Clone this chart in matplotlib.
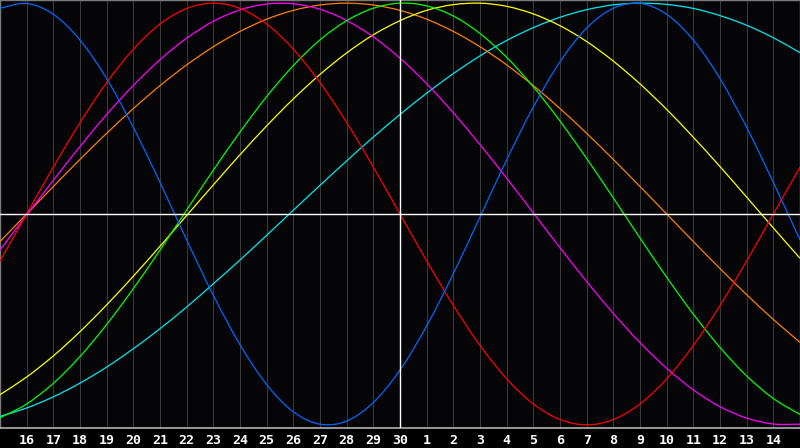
import matplotlib
matplotlib.use("Agg")
import matplotlib.pyplot as plt
from matplotlib.path import Path
from matplotlib.patches import PathPatch

# Day positions (0 = day 15 of previous month, 30 = day 15 of next month)
day_index = list(range(31))
day_labels = ["16", "17", "18", "19", "20", "21", "22", "23", "24", "25", "26", "27", "28", "29", "30",
              "1", "2", "3", "4", "5", "6", "7", "8", "9", "10", "11", "12", "13", "14"]

# Cycle values per day (-1 .. 1)
physical_23 = [0.976, 0.999, 0.947, 0.825, 0.642, 0.411, 0.150, -0.123, -0.386, -0.620, -0.809,
               -0.938, -0.997, -0.982, -0.894, -0.740, -0.531, -0.283, -0.014, 0.257, 0.508,
               0.722, 0.882, 0.976, 0.999, 0.947, 0.825, 0.642, 0.411, 0.150, -0.123]
emotional_28 = [-0.2225, 0.0, 0.2225, 0.4339, 0.6235, 0.7818, 0.9010, 0.9749, 1.0, 0.9749, 0.9010,
                0.7818, 0.6235, 0.4339, 0.2225, 0.0, -0.2225, -0.4339, -0.6235, -0.7818, -0.9010,
                -0.9749, -1.0, -0.9749, -0.9010, -0.7818, -0.6235, -0.4339, -0.2225, 0.0, 0.2225]
intellectual_33 = [-0.967, -0.901, -0.803, -0.676, -0.524, -0.354, -0.171, 0.019, 0.208, 0.389, 0.557,
                   0.704, 0.826, 0.917, 0.976, 1.000, 0.987, 0.939, 0.856, 0.743, 0.603,
                   0.441, 0.263, 0.076, -0.114, -0.300, -0.475, -0.633, -0.768, -0.875, -0.951]
intuitive_38 = [-0.170, -0.005, 0.160, 0.320, 0.472, 0.610, 0.732, 0.834, 0.914, 0.968, 0.996,
                0.997, 0.971, 0.918, 0.840, 0.739, 0.618, 0.480, 0.329, 0.170, 0.005,
                -0.160, -0.320, -0.472, -0.610, -0.732, -0.834, -0.914, -0.968, -0.996, -0.997]
aesthetic_43 = [-0.857, -0.773, -0.673, -0.558, -0.431, -0.295, -0.153, -0.007, 0.138, 0.281, 0.418,
                0.546, 0.662, 0.764, 0.850, 0.917, 0.966, 0.993, 1.000, 0.985, 0.949,
                0.893, 0.818, 0.725, 0.617, 0.496, 0.364, 0.225, 0.080, -0.066, -0.210]
awareness_48 = [-0.1305, 0.0, 0.1305, 0.2588, 0.3827, 0.5, 0.6088, 0.7071, 0.7934, 0.8660, 0.9239,
                0.9659, 0.9914, 1.0, 0.9914, 0.9659, 0.9239, 0.8660, 0.7934, 0.7071, 0.6088,
                0.5, 0.3827, 0.2588, 0.1305, 0.0, -0.1305, -0.2588, -0.3827, -0.5, -0.6088]
spiritual_53 = [-0.960, -0.920, -0.867, -0.802, -0.726, -0.639, -0.544, -0.441, -0.331, -0.218, -0.101,
                0.018, 0.136, 0.252, 0.365, 0.472, 0.573, 0.666, 0.750, 0.823, 0.884,
                0.933, 0.969, 0.992, 1.000, 0.994, 0.975, 0.941, 0.895, 0.836, 0.765]

series = [
    (spiritual_53, "#00e8f0"),
    (awareness_48, "#ff7f00"),
    (aesthetic_43, "#ffff00"),
    (intuitive_38, "#ff00ff"),
    (intellectual_33, "#00ff00"),
    (emotional_28, "#ff0000"),
    (physical_23, "#0068ff"),
]

today_index = 15


def smooth_path(xs, ys):
    """Catmull-Rom curve through the data points, as cubic Bezier segments."""
    n = len(xs)
    mx, my = [], []
    for i in range(n):
        a = max(i - 1, 0)
        b = min(i + 1, n - 1)
        mx.append((xs[b] - xs[a]) / (b - a))
        my.append((ys[b] - ys[a]) / (b - a))
    verts = [(xs[0], ys[0])]
    codes = [Path.MOVETO]
    for i in range(n - 1):
        verts.append((xs[i] + mx[i] / 3, ys[i] + my[i] / 3))
        verts.append((xs[i + 1] - mx[i + 1] / 3, ys[i + 1] - my[i + 1] / 3))
        verts.append((xs[i + 1], ys[i + 1]))
        codes += [Path.CURVE4] * 3
    return Path(verts, codes)


W, H = 800, 448
fig = plt.figure(figsize=(W / 100, H / 100), dpi=100, facecolor="#000000")
ax = fig.add_axes([0, 20 / H, 1, 428 / H])
ax.set_facecolor("#050508")
ax.set_xlim(0, 30)
ax.set_ylim(-1.015, 1.015)

px = 0.72
for k in range(1, 30):
    ax.axvline(k, color="#3a3a3a", lw=px, zorder=1)

for vals, col in series:
    patch = PathPatch(smooth_path(day_index, vals), facecolor="none", edgecolor=col,
                      lw=0.9, zorder=3)
    ax.add_patch(patch)

ax.axhline(0, color="#ffffff", lw=1.0, zorder=4)
ax.axvline(today_index, color="#ffffff", lw=1.0, zorder=4)

for s in ["top", "left", "right"]:
    ax.spines[s].set_color("#7a7a7a")
    ax.spines[s].set_linewidth(1.0)
ax.spines["bottom"].set_color("#b0b0b0")
ax.spines["bottom"].set_linewidth(1.2)

ax.set_yticks([])
ax.set_xticks(range(1, 30))
ax.set_xticklabels(day_labels, color="#ffffff", fontsize=9.5, fontweight="bold",
                   family="DejaVu Sans Mono")
ax.tick_params(axis="x", length=0, pad=4)

fig.savefig("out.png", dpi=100, facecolor=fig.get_facecolor())
